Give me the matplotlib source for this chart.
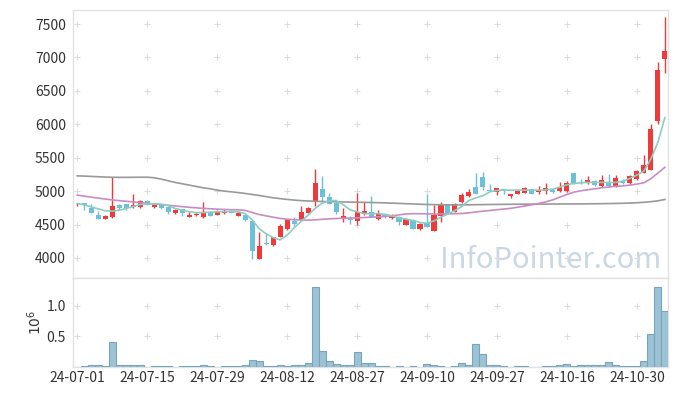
import numpy as np
import matplotlib
matplotlib.use("Agg")
import matplotlib.pyplot as plt

plt.rcParams['font.family'] = ['Noto Sans CJK KR', 'DejaVu Sans']

# 일봉 데이터 (시가, 고가, 저가, 종가) - 24-07-01 ~ 24-11-05
opens = [4800, 4820, 4750, 4640, 4590, 4610, 4790, 4800, 4760, 4755,
         4850, 4760, 4790, 4765, 4670, 4725, 4620, 4640, 4620, 4690,
         4650, 4670, 4705, 4635, 4640, 4555, 3990, 4215, 4195, 4320,
         4430, 4555, 4570, 4680, 4845, 5025, 4905, 4825, 4590, 4575,
         4555, 4670, 4695, 4580, 4660, 4595, 4620, 4495, 4570, 4435,
         4520, 4410, 4630, 4790, 4695, 4830, 4920, 5065, 5215, 5015,
         4990, 5025, 4920, 4955, 4970, 5025, 4980, 4995, 5015, 4995,
         4995, 5265, 5140, 5120, 5155, 5070, 5125, 5070, 5145, 5120,
         5180, 5275, 5320, 6050, 6980]
highs = [4820, 4825, 4800, 4700, 4650, 5210, 4805, 4810, 4960, 4870,
         4860, 4800, 4800, 4775, 4730, 4730, 4690, 4685, 4840, 4700,
         4710, 4730, 4715, 4700, 4650, 4560, 4395, 4370, 4320, 4505,
         4585, 4610, 4780, 4760, 5330, 5225, 4965, 4830, 4745, 4630,
         4975, 4840, 4930, 4710, 4675, 4660, 4630, 4600, 4580, 4520,
         4960, 4795, 4830, 4800, 4815, 4975, 5025, 5265, 5290, 5105,
         5050, 5035, 4960, 5010, 5065, 5030, 5075, 5115, 5025, 5140,
         5155, 5270, 5180, 5225, 5165, 5240, 5255, 5240, 5180, 5235,
         5310, 5540, 6000, 6935, 7610]
lows = [4770, 4710, 4670, 4585, 4585, 4600, 4720, 4720, 4750, 4750,
        4790, 4750, 4730, 4660, 4665, 4630, 4615, 4635, 4600, 4625,
        4645, 4660, 4675, 4630, 4555, 3985, 3985, 4200, 4185, 4315,
        4425, 4480, 4555, 4675, 4780, 4845, 4800, 4660, 4545, 4510,
        4490, 4640, 4615, 4570, 4605, 4590, 4490, 4490, 4435, 4420,
        4465, 4405, 4545, 4675, 4690, 4820, 4910, 4950, 5020, 4995,
        4945, 4960, 4895, 4950, 4965, 4950, 4960, 4955, 4975, 4990,
        4990, 5110, 5100, 5110, 5080, 5060, 5065, 5065, 5110, 5110,
        5170, 5270, 5315, 6000, 6760]
closes = [4810, 4790, 4680, 4590, 4630, 4780, 4740, 4750, 4790, 4850,
          4795, 4795, 4750, 4695, 4715, 4670, 4645, 4665, 4690, 4630,
          4700, 4705, 4680, 4680, 4570, 4110, 4180, 4205, 4310, 4480,
          4580, 4510, 4690, 4740, 5125, 4910, 4810, 4695, 4630, 4565,
          4690, 4705, 4620, 4680, 4610, 4640, 4545, 4580, 4440, 4505,
          4470, 4640, 4790, 4680, 4805, 4940, 4990, 4960, 5060, 5005,
          5040, 5010, 4955, 5005, 5040, 4955, 5015, 5040, 4980, 5065,
          5115, 5120, 5130, 5165, 5085, 5165, 5070, 5190, 5125, 5225,
          5300, 5390, 5930, 6810, 7095]

# 이동평균선
ma5 = [4815, 4795, 4765, 4735, 4705, 4700, 4715, 4740, 4770, 4800,
       4810, 4810, 4805, 4785, 4740, 4715, 4690, 4678, 4680, 4685,
       4690, 4692, 4693, 4690, 4665, 4570, 4440, 4360, 4305, 4270,
       4340, 4450, 4545, 4640, 4740, 4820, 4850, 4860, 4800, 4720,
       4690, 4665, 4660, 4665, 4650, 4630, 4600, 4580, 4560, 4530,
       4520, 4555, 4610, 4660, 4710, 4770, 4860, 4900, 4930, 4990,
       5010, 5015, 5015, 5015, 5015, 5015, 5015, 5020, 5030, 5060,
       5095, 5115, 5125, 5130, 5130, 5130, 5128, 5130, 5150, 5190,
       5240, 5300, 5480, 5730, 6100]
ma20 = [4940, 4925, 4910, 4895, 4882, 4868, 4858, 4848, 4838, 4828,
        4818, 4808, 4798, 4788, 4778, 4768, 4758, 4750, 4742, 4736,
        4730, 4726, 4722, 4720, 4712, 4680, 4650, 4630, 4610, 4592,
        4580, 4572, 4568, 4566, 4570, 4578, 4585, 4590, 4594, 4597,
        4600, 4605, 4610, 4615, 4620, 4630, 4645, 4658, 4662, 4662,
        4660, 4658, 4658, 4660, 4662, 4665, 4675, 4688, 4700, 4710,
        4722, 4732, 4743, 4760, 4778, 4795, 4815, 4840, 4870, 4910,
        4950, 4985, 5005, 5020, 5035, 5050, 5062, 5072, 5078, 5090,
        5105, 5125, 5185, 5270, 5356]
ma60 = [5228, 5225, 5220, 5215, 5210, 5207, 5206, 5206, 5207, 5208,
        5208, 5200, 5180, 5155, 5130, 5110, 5090, 5070, 5050, 5035,
        5015, 5000, 4990, 4978, 4965, 4950, 4935, 4918, 4900, 4888,
        4876, 4866, 4858, 4852, 4848, 4845, 4842, 4840, 4838, 4836,
        4834, 4832, 4830, 4827, 4824, 4820, 4816, 4812, 4808, 4804,
        4800, 4798, 4796, 4795, 4794, 4794, 4795, 4797, 4798, 4800,
        4801, 4802, 4803, 4804, 4805, 4805, 4806, 4806, 4807, 4807,
        4808, 4808, 4809, 4810, 4811, 4812, 4814, 4816, 4818, 4821,
        4826, 4833, 4842, 4855, 4875]

# 거래량 (백만주)
volume = [0.003, 0.016, 0.027, 0.027, 0.016, 0.40, 0.027, 0.027, 0.027, 0.027,
          0.005, 0.012, 0.012, 0.012, 0.005, 0.012, 0.012, 0.012, 0.03, 0.012,
          0.004, 0.012, 0.012, 0.012, 0.03, 0.115, 0.10, 0.012, 0.012, 0.027,
          0.012, 0.027, 0.027, 0.06, 1.30, 0.26, 0.10, 0.05, 0.027, 0.027,
          0.245, 0.06, 0.06, 0.012, 0.012, 0.004, 0.012, 0.004, 0.012, 0.004,
          0.045, 0.027, 0.012, 0.004, 0.012, 0.06, 0.027, 0.375, 0.205, 0.027,
          0.027, 0.012, 0.004, 0.012, 0.012, 0.004, 0.004, 0.012, 0.012, 0.027,
          0.045, 0.012, 0.027, 0.027, 0.027, 0.027, 0.075, 0.027, 0.012, 0.012,
          0.012, 0.09, 0.53, 1.31, 0.92]

xtick_labels = ['24-07-01', '24-07-15', '24-07-29', '24-08-12', '24-08-27',
                '24-09-10', '24-09-27', '24-10-16', '24-10-30']

#%% 그리기
up_color = '#f03a3a'
down_color = '#6cc0d8'
grid_color = '#dcdcdc'
text_color = '#333333'

o = np.array(opens, dtype=float)
h = np.array(highs, dtype=float)
l = np.array(lows, dtype=float)
c = np.array(closes, dtype=float)
x = np.arange(len(o))
colores = np.where(c >= o, up_color, down_color)

fig = plt.figure(figsize=(6.77, 3.96), dpi=100)
gs = fig.add_gridspec(2, 1, height_ratios=[268, 89], hspace=0,
                      left=73/677, right=668/677, top=1-10/396, bottom=1-367/396)
ax = fig.add_subplot(gs[0])
axv = fig.add_subplot(gs[1], sharex=ax)

# 캔들
ax.vlines(x, l, h, colors=colores, linewidth=1.0, zorder=2)
cuerpo = np.maximum(np.abs(c - o), 12)
ax.bar(x, cuerpo, bottom=np.minimum(o, c), width=0.72, color=colores,
       linewidth=0, zorder=3)

# 이동평균선
ax.plot(x, ma60, color='#999999', lw=1.2, zorder=4)
ax.plot(x, ma20, color='#c98bc4', lw=1.2, zorder=4)
ax.plot(x, ma5, color='#8ccdbf', lw=1.2, zorder=4)

# 거래량
axv.bar(x, volume, width=1.0, color='#9dc2d3', edgecolor='#76a6bd',
        linewidth=0.8, zorder=3)

xticks = np.arange(0, len(o), 10)
ytick_p = np.arange(4000, 7501, 500)
ytick_v = [0.5, 1.0]

ax.set_xlim(-0.6, 84.45)
ax.set_ylim(3700, 7710)
axv.set_ylim(0, 1.45)

# 격자 대신 '+' 표시
gx, gy = np.meshgrid(xticks, ytick_p)
ax.plot(gx.ravel(), gy.ravel(), ls='none', marker='+', ms=4.5, mew=0.8,
        color=grid_color, zorder=1)
gx, gy = np.meshgrid(xticks, ytick_v)
axv.plot(gx.ravel(), gy.ravel(), ls='none', marker='+', ms=4.5, mew=0.8,
         color=grid_color, zorder=1)

ax.set_yticks(ytick_p)
ax.set_yticklabels([str(v) for v in ytick_p])
axv.set_yticks(ytick_v)
axv.set_yticklabels(['0.5', '1.0'])
axv.set_xticks(xticks)
axv.set_xticklabels(xtick_labels)
ax.tick_params(axis='x', labelbottom=False, length=0)
ax.tick_params(axis='y', length=0, pad=5, labelsize=10, labelcolor=text_color)
axv.tick_params(axis='both', length=0, labelsize=10, labelcolor=text_color)
axv.tick_params(axis='y', pad=5)
axv.tick_params(axis='x', pad=3)
axv.set_ylabel('$10^6$', fontsize=10, color=text_color, labelpad=2)

for a in (ax, axv):
    for s in a.spines.values():
        s.set_color('#e2e2e2')
        s.set_linewidth(1.0)

ax.text(0.988, 0.037, 'InfoPointer.com', transform=ax.transAxes,
        ha='right', va='baseline', fontsize=21, color='#c9d8e4', zorder=0)

fig.savefig('out.png', dpi=100)
